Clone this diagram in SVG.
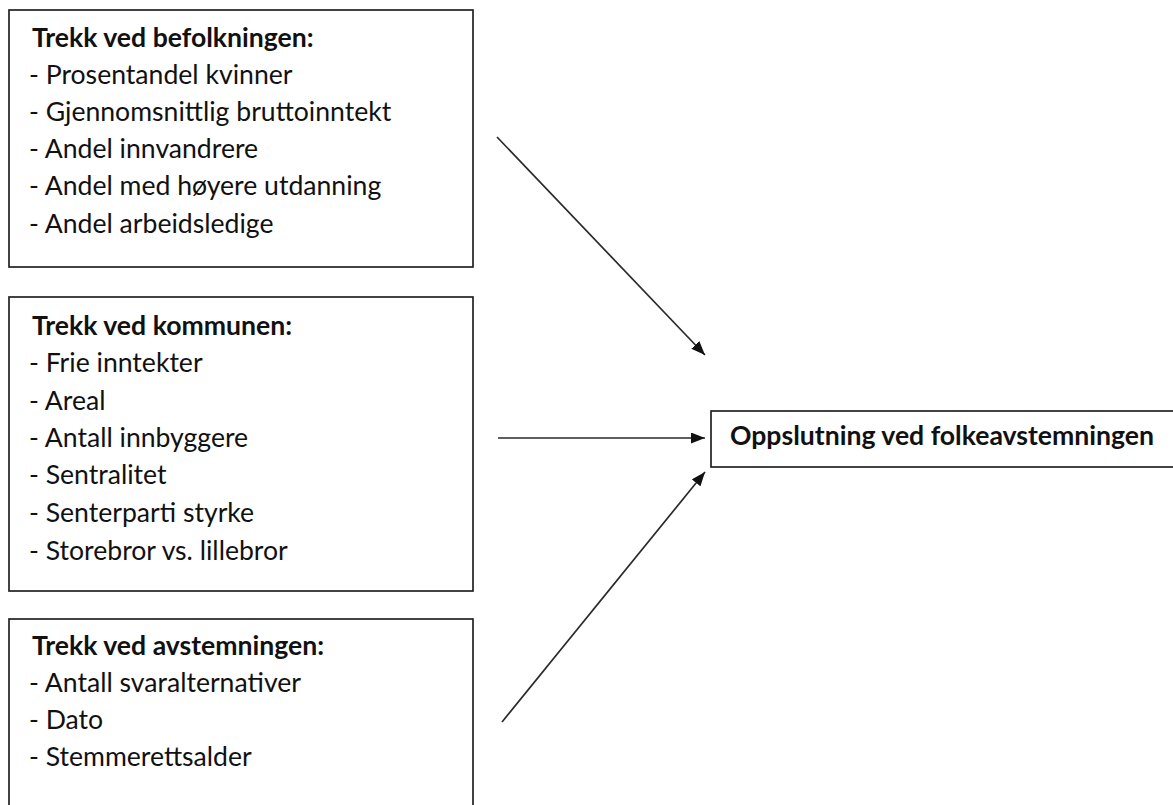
<svg xmlns="http://www.w3.org/2000/svg" width="1173" height="805" viewBox="0 0 1173 805">
<style>
.box{fill:#fff;stroke:#222;stroke-width:1.7}
.t{font-family:Lato,"Open Sans","Liberation Sans",sans-serif;font-size:26.6px;fill:#111}
.b{font-weight:bold}
.c{stroke:#2a2a2a;stroke-width:1.7;fill:none;marker-end:url(#ah)}
</style>
<defs>
<marker id="ah" viewBox="0 0 14 11" refX="14" refY="5.5" markerWidth="14" markerHeight="11" markerUnits="userSpaceOnUse" orient="auto">
<path d="M0,0 L14,5.5 L0,11 z" fill="#111"/>
</marker>
</defs>
<rect width="1173" height="805" fill="#fff"/>
<g id="befolkningen">
<rect class="box" x="9" y="10" width="464" height="257"/>
<text class="t b" x="32" y="47">Trekk ved befolkningen:</text>
<text class="t" x="29" y="84">- Prosentandel kvinner</text>
<text class="t" x="29" y="121">- Gjennomsnittlig bruttoinntekt</text>
<text class="t" x="29" y="158">- Andel innvandrere</text>
<text class="t" x="29" y="195">- Andel med høyere utdanning</text>
<text class="t" x="29" y="233">- Andel arbeidsledige</text>
</g>
<g id="kommunen">
<rect class="box" x="9" y="297" width="464" height="294"/>
<text class="t b" x="32" y="335">Trekk ved kommunen:</text>
<text class="t" x="29" y="372">- Frie inntekter</text>
<text class="t" x="29" y="410">- Areal</text>
<text class="t" x="29" y="447">- Antall innbyggere</text>
<text class="t" x="29" y="484">- Sentralitet</text>
<text class="t" x="29" y="522">- Senterparti styrke</text>
<text class="t" x="29" y="560">- Storebror vs. lillebror</text>
</g>
<g id="avstemningen">
<rect class="box" x="9" y="619" width="464" height="200"/>
<text class="t b" x="32" y="655">Trekk ved avstemningen:</text>
<text class="t" x="29" y="692">- Antall svaralternativer</text>
<text class="t" x="29" y="729">- Dato</text>
<text class="t" x="29" y="766">- Stemmerettsalder</text>
</g>
<g id="oppslutning">
<rect class="box" x="711" y="411" width="470" height="56"/>
<text class="t b" x="730" y="445">Oppslutning ved folkeavstemningen</text>
</g>
<g id="connectors">
<line class="c" x1="497" y1="137" x2="705" y2="355"/>
<line class="c" x1="498" y1="438" x2="705" y2="438"/>
<line class="c" x1="502" y1="722" x2="705" y2="472"/>
</g>
</svg>
